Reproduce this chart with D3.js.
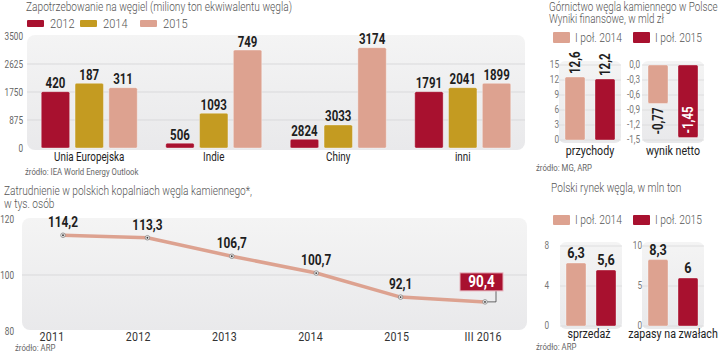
<!DOCTYPE html>
<html lang="pl">
<head>
<meta charset="utf-8">
<script src="https://cdn.jsdelivr.net/npm/d3@7"></script>
<style>
  html, body { margin: 0; padding: 0; background: #fff; }
  svg { display: block; }
</style>
</head>
<body>
<svg id="chart"></svg>
<script>
// --- DATA ---
// Coal demand (bar heights as drawn, labels as printed)
const demandCategories = ["Unia Europejska", "Indie", "Chiny", "inni"];
const demandYears = ["2012", "2014", "2015"];
const demand2012 = [1760, 150, 270, 1760];
const demand2014 = [2020, 1085, 720, 1885];
const demand2015 = [1885, 3060, 3135, 2020];
const demandLabels2012 = ["420", "506", "2824", "1791"];
const demandLabels2014 = ["187", "1093", "3033", "2041"];
const demandLabels2015 = ["311", "749", "3174", "1899"];
const demandTicks = [0, 875, 1750, 2625, 3500];

// Mining finances, bn zł
const halfYears = ["I poł. 2014", "I poł. 2015"];
const revenue = [12.6, 12.2];
const revenueTicks = [0, 3, 6, 9, 12, 15];
const netResult = [-0.77, -1.45];
const netTicks = [0, -0.3, -0.6, -0.9, -1.2, -1.5];

// Employment, thousand people
const empYears = ["2011", "2012", "2013", "2014", "2015", "III 2016"];
const empValues = [114.2, 113.3, 106.7, 100.7, 92.1, 90.4];
const empTicks = [80, 100, 120];

// Coal market, mln t
const sales = [6.3, 5.6];
const salesTicks = [0, 4, 8];
const stocks = [8.3, 6];
const stocksTicks = [0, 5, 10];

(function () {
  const W = 721, H = 353;
  const FONT = "Roboto, 'Liberation Sans', sans-serif";
  const SX = 0.82; // horizontal squeeze -> condensed look
  const C_RED = "#a8112f", C_GOLD = "#c49b21", C_SALMON = "#dda290";
  const GRID = "#d9d9db";
  const TITLE = 12.4;

  const pl = d3.formatLocale({ decimal: ",", thousands: " ", grouping: [3], currency: ["", " zł"], minus: "-" });
  const fmt1 = pl.format(".1f");
  const numLabel = (v) => String(v).replace(".", ",");

  // transform for a condensed text placed at x,y
  const tf = (x, y, rot) => `translate(${x},${y})` + (rot ? ` rotate(${rot})` : "") + ` scale(${SX},1)`;

  const svg = d3.select("#chart").attr("width", W).attr("height", H)
    .attr("viewBox", `0 0 ${W} ${H}`).style("font-family", FONT);

  // panel gradient
  const defs = svg.append("defs");
  const grad = defs.append("linearGradient").attr("id", "panelGrad")
    .attr("x1", 0).attr("y1", 0).attr("x2", 0).attr("y2", 1);
  grad.append("stop").attr("offset", "0%").attr("stop-color", "#f4f4f4");
  grad.append("stop").attr("offset", "100%").attr("stop-color", "#e9e9eb");

  function text(g, x, y, str, size, color, opts = {}) {
    return g.append("text").attr("transform", tf(x, y))
      .attr("font-size", size).attr("fill", color)
      .attr("font-weight", opts.weight || "normal")
      .attr("text-anchor", opts.anchor || "start")
      .text(str);
  }

  // ================= CHART 1: coal demand =================
  const g1 = svg.append("g").attr("class", "demand");
  text(g1, 26, 11, "Zapotrzebowanie na węgiel (miliony ton ekwiwalentu węgla)", TITLE, "#555", { weight: 300 });

  const demandColors = d3.scaleOrdinal().domain(demandYears).range([C_RED, C_GOLD, C_SALMON]);
  const legendX = d3.scaleOrdinal().domain(demandYears).range([27, 80, 140]);
  demandYears.forEach((yr) => {
    g1.append("rect").attr("x", legendX(yr)).attr("y", 20).attr("width", 17).attr("height", 7)
      .attr("rx", 1).attr("fill", demandColors(yr));
    text(g1, legendX(yr) + 23, 28, yr, 13.5, "#555", { weight: 300 });
  });

  const x1 = d3.scaleBand().domain(demandCategories).range([27, 525]);
  const x1Inner = d3.scaleBand().domain(demandYears).range([0, 96]).paddingInner(0.16);
  const y1 = d3.scaleLinear().domain([0, 3500]).range([148, 36]);

  g1.append("rect").attr("x", 27).attr("y", 35).attr("width", 498).attr("height", 115)
    .attr("rx", 8).attr("fill", "url(#panelGrad)");

  g1.selectAll(".grid").data(demandTicks.filter((t) => t > 0 && t < 3500)).enter()
    .append("line").attr("class", "grid")
    .attr("x1", 27).attr("x2", 525)
    .attr("y1", (d) => y1(d)).attr("y2", (d) => y1(d))
    .attr("stroke", GRID).attr("stroke-width", 1);

  g1.selectAll(".tick").data(demandTicks).enter()
    .append("text").attr("class", "tick")
    .attr("transform", (d) => tf(23, y1(d) + 3.5))
    .attr("text-anchor", "end").attr("font-size", 10).attr("fill", "#666")
    .text((d) => d);

  const demandRows = demandCategories.map((cat, i) => ({
    cat,
    bars: [
      { year: "2012", v: demand2012[i], label: demandLabels2012[i] },
      { year: "2014", v: demand2014[i], label: demandLabels2014[i] },
      { year: "2015", v: demand2015[i], label: demandLabels2015[i] }
    ]
  }));

  const groups = g1.selectAll(".cat").data(demandRows).enter().append("g")
    .attr("class", "cat")
    .attr("transform", (d) => `translate(${x1(d.cat) + x1.bandwidth() / 2 - 48},0)`);

  groups.selectAll("rect").data((d) => d.bars).enter().append("rect")
    .attr("x", (d) => x1Inner(d.year))
    .attr("y", (d) => y1(d.v))
    .attr("width", x1Inner.bandwidth())
    .attr("height", (d) => y1(0) - y1(d.v))
    .attr("rx", 1.5)
    .attr("fill", (d) => demandColors(d.year))
    .attr("stroke", "#fff").attr("stroke-opacity", 0.35).attr("stroke-width", 1);

  groups.selectAll(".val").data((d) => d.bars).enter().append("text")
    .attr("class", "val")
    .attr("transform", (d) => tf(x1Inner(d.year) + x1Inner.bandwidth() / 2, y1(d.v) - 3.5))
    .attr("text-anchor", "middle").attr("font-size", 14).attr("font-weight", "bold")
    .attr("fill", "#1e1e1e")
    .text((d) => d.label);

  groups.append("text")
    .attr("transform", tf(48, 161))
    .attr("text-anchor", "middle").attr("font-size", 12).attr("fill", "#222")
    .text((d) => d.cat);

  text(g1, 25, 175, "źródło: IEA World Energy Outlook", 9.5, "#666");

  // ================= Small panel helper =================
  const halfColor = d3.scaleOrdinal().domain(halfYears).range([C_SALMON, C_RED]);

  function legendHalf(g, y, h) {
    const lx = d3.scaleOrdinal().domain(halfYears).range([553, 633]);
    halfYears.forEach((k) => {
      g.append("rect").attr("x", lx(k)).attr("y", y).attr("width", 17).attr("height", h)
        .attr("rx", 1).attr("fill", halfColor(k));
      text(g, lx(k) + 22, y + h - 1, k, 12.5, "#555", { weight: 300 });
    });
  }

  function smallPanel(g, o) {
    const x = d3.scaleBand().domain(halfYears).range(o.xRange).paddingInner(1 / 3);
    const y = d3.scaleLinear().domain(o.domain).range(o.yRange);
    const yTop = Math.min(...o.yRange), yBot = Math.max(...o.yRange);

    g.append("rect").attr("x", o.xRange[0] - 6).attr("y", yTop - 4)
      .attr("width", o.xRange[1] - o.xRange[0] + 12).attr("height", yBot - yTop + 7)
      .attr("rx", 6).attr("fill", "url(#panelGrad)");

    g.selectAll(null).data(o.ticks).enter().append("line")
      .attr("x1", o.xRange[0] - 6).attr("x2", o.xRange[1] + 6)
      .attr("y1", (d) => y(d)).attr("y2", (d) => y(d))
      .attr("stroke", GRID).attr("stroke-width", 0.8);

    g.selectAll(null).data(o.ticks).enter().append("text")
      .attr("transform", (d) => tf(o.tickX, y(d) + 3))
      .attr("text-anchor", "end").attr("font-size", 10).attr("fill", "#777")
      .text(o.tickFormat);

    const rows = halfYears.map((k, i) => ({ k, v: o.values[i] }));
    g.selectAll(null).data(rows).enter().append("rect")
      .attr("x", (d) => x(d.k))
      .attr("y", (d) => Math.min(y(d.v), y(0)))
      .attr("width", x.bandwidth())
      .attr("height", (d) => Math.abs(y(d.v) - y(0)))
      .attr("rx", 1.5)
      .attr("fill", (d) => halfColor(d.k))
      .attr("stroke", "#fff").attr("stroke-opacity", 0.35).attr("stroke-width", 1);

    o.labels(g, rows, x, y);

    text(g, (o.xRange[0] + o.xRange[1]) / 2 + (o.catShift || 0), o.catY, o.cat, 13, "#222", { anchor: "middle" });
  }

  // rotated label helper
  function rotLabel(g, cx, yy, str, anchor, color) {
    g.append("text")
      .attr("transform", tf(cx, yy, -90))
      .attr("dy", "0.36em")
      .attr("text-anchor", anchor).attr("font-size", 14).attr("font-weight", "bold")
      .attr("fill", color).text(str);
  }

  // ================= CHART 2: finances =================
  const g2 = svg.append("g").attr("class", "finance");
  text(g2, 549, 11, "Górnictwo węgla kamiennego w Polsce", 12, "#555", { weight: 300 });
  text(g2, 549, 23, "Wyniki finansowe, w mld zł", 12, "#555", { weight: 300 });
  legendHalf(g2, 32, 11);

  smallPanel(g2.append("g"), {
    values: revenue, domain: [0, 15], yRange: [140, 65], xRange: [565, 615],
    ticks: revenueTicks, tickX: 559, tickFormat: (d) => d,
    cat: "przychody", catY: 155,
    labels: (g, rows, x, y) => rows.forEach((d) =>
      rotLabel(g, x(d.k) + x.bandwidth() / 2, y(d.v) - 3, numLabel(d.v), "start", "#1e1e1e"))
  });

  smallPanel(g2.append("g"), {
    values: netResult, domain: [-1.5, 0], yRange: [140, 65], xRange: [648, 698],
    ticks: netTicks, tickX: 640, tickFormat: (d) => fmt1(d),
    cat: "wynik netto", catY: 155,
    labels: (g, rows, x, y) => {
      const a = rows[0], b = rows[1];
      rotLabel(g, x(a.k) + x.bandwidth() / 2, y(a.v) + 4, numLabel(a.v), "end", "#1e1e1e");
      rotLabel(g, x(b.k) + x.bandwidth() / 2, y(b.v) - 4, numLabel(b.v), "start", "#fff");
    }
  });

  text(g2, 536, 171, "źródło: MG, ARP", 9.5, "#666");

  // ================= CHART 3: employment =================
  const g3 = svg.append("g").attr("class", "employment");
  text(g3, 4, 195, "Zatrudnienie w polskich kopalniach węgla kamiennego*,", TITLE, "#555", { weight: 300 });
  text(g3, 4, 208, "w tys. osób", TITLE, "#555", { weight: 300 });

  const y3 = d3.scaleLinear().domain([80, 120]).range([331, 219]);
  const x3 = d3.scalePoint().domain(empYears).range([63, 485]);
  const x3Lab = d3.scalePoint().domain(empYears).range([52, 483]);

  g3.append("rect").attr("x", 22).attr("y", 218).attr("width", 505).attr("height", 112)
    .attr("rx", 8).attr("fill", "url(#panelGrad)");
  g3.append("line").attr("x1", 22).attr("x2", 527).attr("y1", y3(100)).attr("y2", y3(100))
    .attr("stroke", GRID);

  g3.selectAll(".tick").data(empTicks).enter().append("text").attr("class", "tick")
    .attr("transform", (d) => tf(14, y3(d) + 3.5)).attr("text-anchor", "end")
    .attr("font-size", 10).attr("fill", "#666").text((d) => d);

  const empData = empYears.map((yr, i) => ({ yr, v: empValues[i] }));
  const line = d3.line().x((d) => x3(d.yr)).y((d) => y3(d.v)).curve(d3.curveLinear);

  g3.append("path").datum(empData).attr("d", line)
    .attr("fill", "none").attr("stroke", C_SALMON).attr("stroke-width", 3.5)
    .attr("stroke-linejoin", "round");

  const last = empData[empData.length - 1];
  const lx = x3(last.yr), ly = y3(last.v);
  // leader line to highlighted value
  g3.append("path").attr("d", `M${lx},${ly}H${lx + 11}V${ly - 11}`)
    .attr("fill", "none").attr("stroke", "#444").attr("stroke-width", 0.8);

  g3.selectAll(".pt").data(empData).enter().append("circle").attr("class", "pt")
    .attr("cx", (d) => x3(d.yr)).attr("cy", (d) => y3(d.v)).attr("r", 2.3)
    .attr("fill", "#eee").attr("stroke", "#888").attr("stroke-width", 0.8);
  g3.selectAll(".ptc").data(empData).enter().append("circle").attr("class", "ptc")
    .attr("cx", (d) => x3(d.yr)).attr("cy", (d) => y3(d.v)).attr("r", 0.9).attr("fill", "#333");

  g3.selectAll(".val").data(empData.slice(0, -1)).enter().append("text").attr("class", "val")
    .attr("transform", (d) => tf(x3(d.yr), y3(d.v) - 8))
    .attr("text-anchor", "middle").attr("font-size", 14.5).attr("font-weight", "bold")
    .attr("fill", "#1e1e1e").text((d) => numLabel(d.v));

  g3.append("rect").attr("x", lx - 25).attr("y", ly - 29).attr("width", 43).attr("height", 18)
    .attr("fill", C_RED).attr("stroke", "#e6b3bd").attr("stroke-width", 1);
  g3.append("text").attr("transform", tf(lx - 3.5, ly - 14.5)).attr("text-anchor", "middle")
    .attr("font-size", 16.5).attr("font-weight", "bold").attr("fill", "#fff")
    .text(numLabel(last.v));

  g3.selectAll(".xl").data(empYears).enter().append("text").attr("class", "xl")
    .attr("transform", (d) => tf(x3Lab(d), 341)).attr("text-anchor", "middle")
    .attr("font-size", 13).attr("fill", "#333").style("letter-spacing", "0.3px").text((d) => d);

  text(g3, 15, 351, "źródło: ARP", 9.5, "#666");

  // ================= CHART 4: coal market =================
  const g4 = svg.append("g").attr("class", "market");
  text(g4, 551, 192, "Polski rynek węgla, w mln ton", TITLE, "#555", { weight: 300 });
  legendHalf(g4, 215, 10);

  const topLabels = (g, rows, x, y) => g.selectAll(null).data(rows).enter().append("text")
    .attr("transform", (d) => tf(x(d.k) + x.bandwidth() / 2, y(d.v) - 5))
    .attr("text-anchor", "middle").attr("font-size", 15.5).attr("font-weight", "bold")
    .attr("fill", "#1e1e1e").text((d) => numLabel(d.v));

  smallPanel(g4.append("g"), {
    values: sales, domain: [0, 8], yRange: [326, 246], xRange: [566, 616],
    ticks: salesTicks, tickX: 549, tickFormat: (d) => d,
    cat: "sprzedaż", catY: 338, catShift: -2, labels: topLabels
  });

  smallPanel(g4.append("g"), {
    values: stocks, domain: [0, 10], yRange: [326, 246], xRange: [648, 698],
    ticks: stocksTicks, tickX: 642, tickFormat: (d) => d,
    cat: "zapasy na zwałach", catY: 338, labels: topLabels
  });

  text(g4, 536, 350, "źródło: ARP", 9.5, "#666");
})();
</script>
</body>
</html>
